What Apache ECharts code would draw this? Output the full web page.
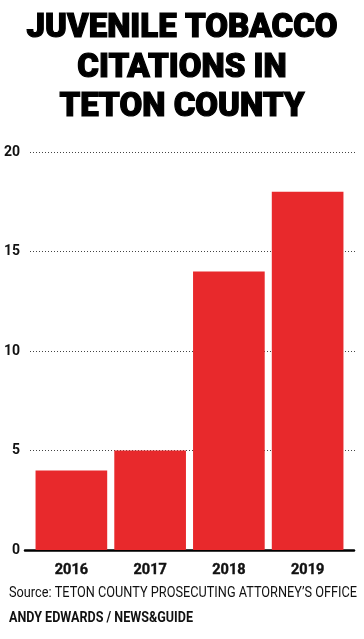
<!DOCTYPE html>
<html><head><meta charset="utf-8">
<script src="https://cdn.jsdelivr.net/npm/echarts@6/dist/echarts.min.js"></script>
<style>html,body{margin:0;padding:0;background:#fff}#c{width:364px;height:639px}</style>
</head><body><div id="c"></div>
<script>
const titleText = 'JUVENILE TOBACCO\nCITATIONS IN\nTETON COUNTY';
const categories = ['2016', '2017', '2018', '2019'];
const citations = [4, 5, 14, 18];
const yTicks = [0, 5, 10, 15, 20];
const sourceText = 'Source: TETON COUNTY PROSECUTING ATTORNEY\u2019S OFFICE';
const creditText = 'ANDY EDWARDS / NEWS&GUIDE';

function fitScale(text, font, target) {
  const ctx = document.createElement('canvas').getContext('2d');
  ctx.font = font;
  return target / ctx.measureText(text).width;
}
const srcFont = 'normal 15.5px Roboto';
const credFont = 'bold 14px Roboto';
const srcScale = fitScale(sourceText, srcFont, 348);
const credScale = fitScale(creditText, credFont, 184);

const chart = echarts.init(document.getElementById('c'), null, {renderer: 'canvas'});
const gTop = 152, gBottom = 89;
chart.setOption({
  animation: false,
  backgroundColor: '#fff',
  title: [
    {text: titleText, left: 'center', top: 4,
     textStyle: {fontFamily: 'Roboto', fontWeight: 900, fontSize: 33, lineHeight: 39.5, color: '#000',
                 textBorderColor: '#000', textBorderWidth: 1.2}}
  ],
  graphic: [
    {type: 'text', x: 9, y: 585, scaleX: srcScale,
     style: {text: sourceText, font: srcFont, fill: '#111', verticalAlign: 'top'}},
    {type: 'text', x: 9, y: 611, scaleX: credScale,
     style: {text: creditText, font: credFont, fill: '#111', verticalAlign: 'top'}}
  ],
  grid: [
    {left: 32, right: 17, top: gTop, bottom: gBottom},
    {left: 30, right: 9, top: gTop, bottom: gBottom},
    {left: 25, right: 10, top: gTop, bottom: gBottom}
  ],
  xAxis: [
    {type: 'category', gridIndex: 0, data: categories,
     axisLine: {show: false}, axisTick: {show: false},
     axisLabel: {color: '#111', fontFamily: 'Roboto', fontWeight: 'bold', fontSize: 14.5, margin: 13,
                 textBorderColor: '#111', textBorderWidth: 0.4}},
    {type: 'category', gridIndex: 1, data: categories, show: false},
    {type: 'category', gridIndex: 2, data: categories,
     axisLine: {show: true, lineStyle: {color: '#000', width: 2.5}}, axisTick: {show: false}, axisLabel: {show: false}}
  ],
  yAxis: [
    {type: 'value', gridIndex: 0, min: 0, max: 20, interval: 5, show: false},
    {type: 'value', gridIndex: 1, min: yTicks[0], max: yTicks[yTicks.length - 1], interval: 5,
     axisLine: {show: false}, axisTick: {show: false},
     axisLabel: {color: '#111', fontFamily: 'Roboto', fontWeight: 'bold', fontSize: 14, margin: 10},
     splitLine: {show: true, lineStyle: {color: '#444', type: [1, 2], width: 1}}},
    {type: 'value', gridIndex: 2, min: 0, max: 20, interval: 5, show: false}
  ],
  series: [
    {type: 'bar', xAxisIndex: 0, yAxisIndex: 0, data: citations, barCategoryGap: '9%',
     itemStyle: {color: '#e8292c'}, z: 3}
  ]
});
</script></body></html>
